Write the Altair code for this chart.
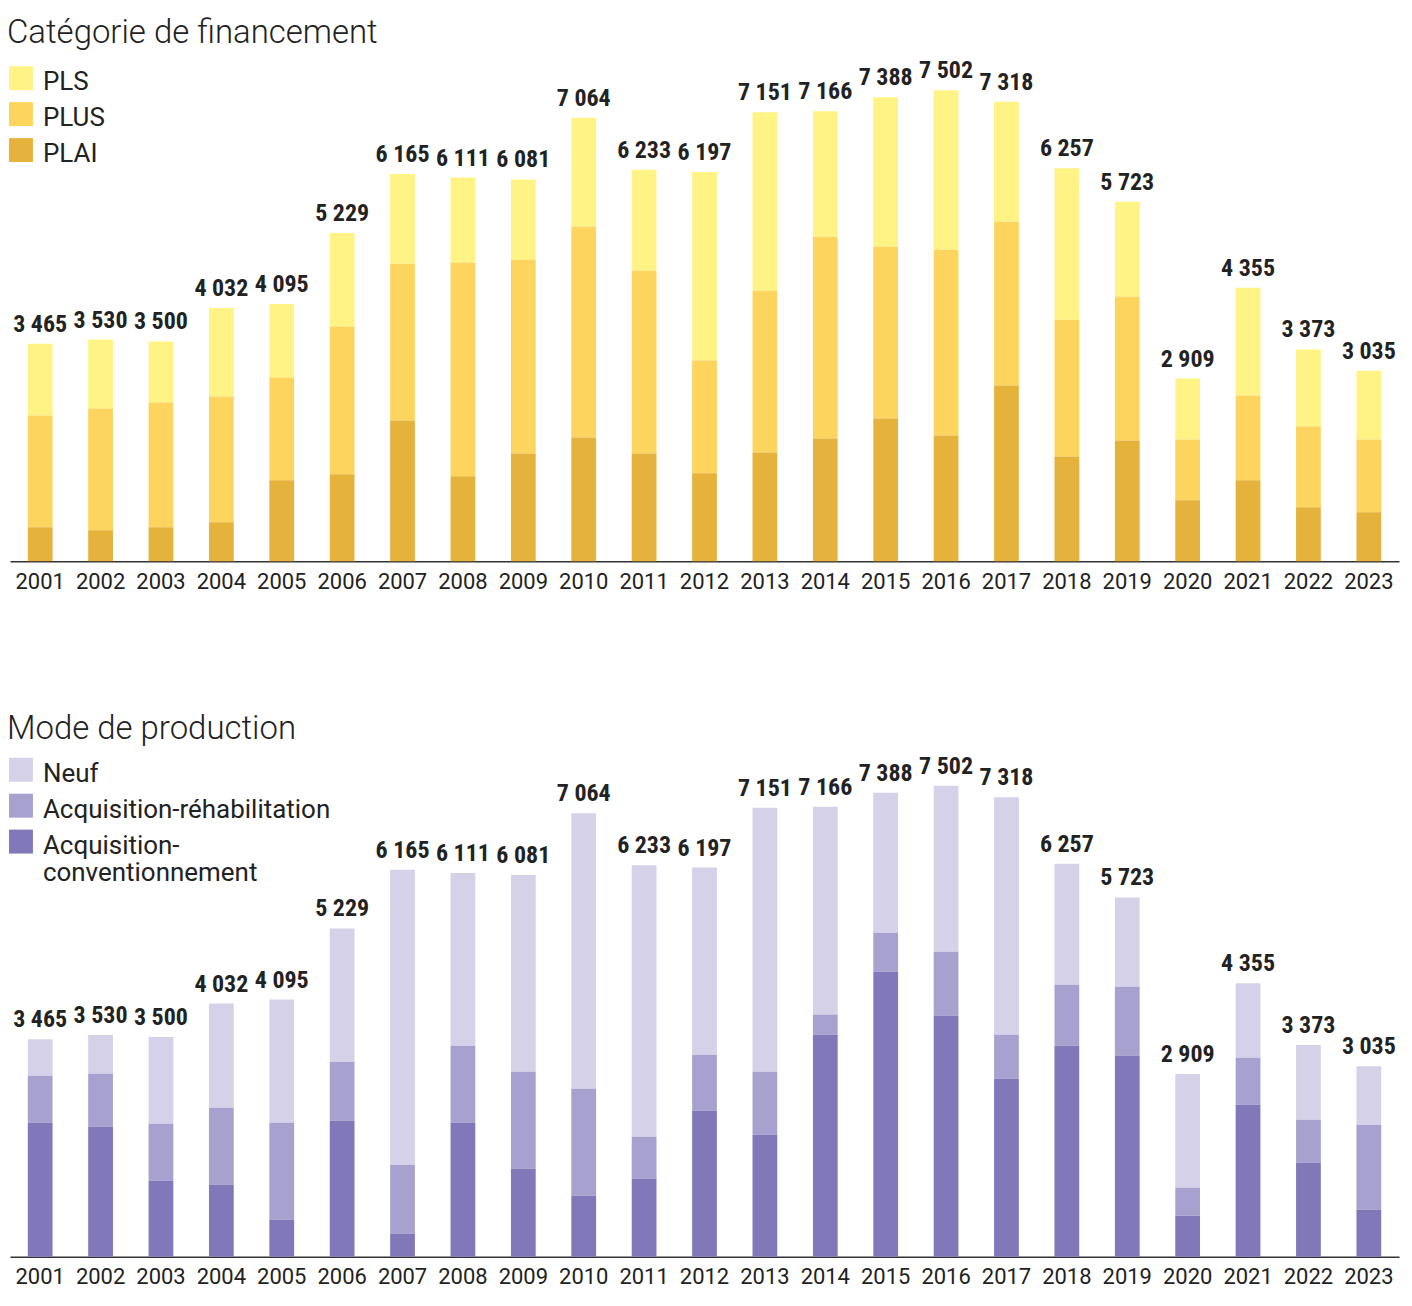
import altair as alt
import pandas as pd

years = [str(y) for y in range(2001, 2024)]
totals = [3465, 3530, 3500, 4032, 4095, 5229, 6165, 6111, 6081, 7064, 6233, 6197,
          7151, 7166, 7388, 7502, 7318, 6257, 5723, 2909, 4355, 3373, 3035]

# Catégorie de financement
plai = [540, 493, 540, 620, 1288, 1383, 2241, 1351, 1717, 1971, 1717, 1399,
        1733, 1955, 2273, 2003, 2798, 1669, 1923, 970, 1288, 858, 779]
plus = [1781, 1939, 1987, 2003, 1637, 2353, 2496, 3402, 3084, 3354, 2909, 1796,
        2575, 3211, 2734, 2957, 2607, 2178, 2289, 970, 1351, 1288, 1160]
pls = [1144, 1098, 973, 1409, 1170, 1493, 1428, 1358, 1280, 1739, 1607, 3002,
       2843, 2000, 2381, 2542, 1913, 2410, 1511, 969, 1716, 1227, 1096]

# Mode de production
acq_conv = [2134, 2071, 1211, 1147, 589, 2166, 366, 2134, 1402, 972, 1242, 2326,
            1943, 3536, 4540, 3839, 2835, 3361, 3202, 653, 2421, 1497, 749]
acq_reha = [749, 844, 908, 1227, 1545, 940, 1099, 1227, 1545, 1704, 669, 892,
            1004, 319, 621, 1020, 701, 972, 1099, 446, 749, 685, 1354]
neuf = [582, 615, 1381, 1658, 1961, 2123, 4700, 2750, 3134, 4388, 4322, 2979,
        4204, 3311, 2227, 2643, 3782, 1924, 1422, 1810, 1185, 1191, 932]

fin_cats = ["PLS", "PLUS", "PLAI"]
fin_colors = ["#FFF385", "#FDD55E", "#E5B23B"]
mode_cats = ["Neuf", "Acquisition-réhabilitation", "Acquisition-conventionnement"]
mode_colors = ["#D5D1E8", "#A6A1CF", "#8078B9"]

FONT = "Roboto"
LABEL_FONT = "Roboto Condensed, Roboto"
YMAX = 8058
SQUARE_UP = "M-1,-2H1V0H-1Z"


def long_df(series, cats):
    rows = []
    for ci, (cat, vals) in enumerate(zip(cats, series)):
        for y, v in zip(years, vals):
            rows.append({"year": y, "cat": cat, "value": v, "ord": len(cats) - ci})
    return pd.DataFrame(rows)


tot_df = pd.DataFrame({
    "year": years,
    "total": totals,
    "label": [f"{v:,}".replace(",", " ") for v in totals],
})


def panel(df, title, cats, colors, legend_y):
    xenc = alt.X(
        "year:N",
        scale=alt.Scale(paddingInner=0.59, paddingOuter=0.295),
        axis=alt.Axis(title=None, labelAngle=0, ticks=False, labelFont=FONT,
                      labelFontSize=22, labelColor="#222", labelPadding=10,
                      domainColor="#333", domainWidth=1.5),
    )
    yscale = alt.Scale(domain=[0, YMAX], nice=False, zero=True)
    bars = alt.Chart(df).mark_bar().encode(
        x=xenc,
        y=alt.Y("value:Q", stack="zero", axis=None, scale=yscale),
        color=alt.Color(
            "cat:N",
            scale=alt.Scale(domain=cats, range=colors),
            legend=alt.Legend(
                title=None, orient="none", legendX=-2, legendY=legend_y,
                symbolType=SQUARE_UP, symbolSize=576, symbolStrokeWidth=0,
                labelFont=FONT, labelFontSize=26, labelColor="#222",
                labelOffset=9, rowPadding=7, padding=0, labelLimit=400,
                labelBaseline="alphabetic",
                labelExpr="datum.label == 'Acquisition-conventionnement' ? ['Acquisition-', 'conventionnement'] : datum.label",
            ),
        ),
        order=alt.Order("ord:Q"),
    )
    text = alt.Chart(tot_df).mark_text(
        font=LABEL_FONT, fontWeight="bold", fontSize=24, color="#222",
        baseline="alphabetic", dy=-12,
    ).encode(x=alt.X("year:N"), y=alt.Y("total:Q", scale=yscale), text="label:N")
    return alt.layer(bars, text).properties(
        width=1392, height=507,
        title=alt.TitleParams(title, anchor="start", font=FONT, fontSize=33,
                              fontWeight=300, color="#222", offset=5, dx=-1),
    )


top = panel(long_df([pls, plus, plai], fin_cats), "Catégorie de financement",
            fin_cats, fin_colors, 22)
bottom = panel(long_df([neuf, acq_reha, acq_conv], mode_cats), "Mode de production",
               mode_cats, mode_colors, 18)

chart = alt.vconcat(top, bottom, spacing=121).resolve_scale(color="independent").properties(
    padding={"left": 7, "right": 13, "top": 16, "bottom": 5}
).configure(background="white").configure_view(stroke=None)

chart.save("out.html", embed_options={"renderer": "svg", "actions": False})
